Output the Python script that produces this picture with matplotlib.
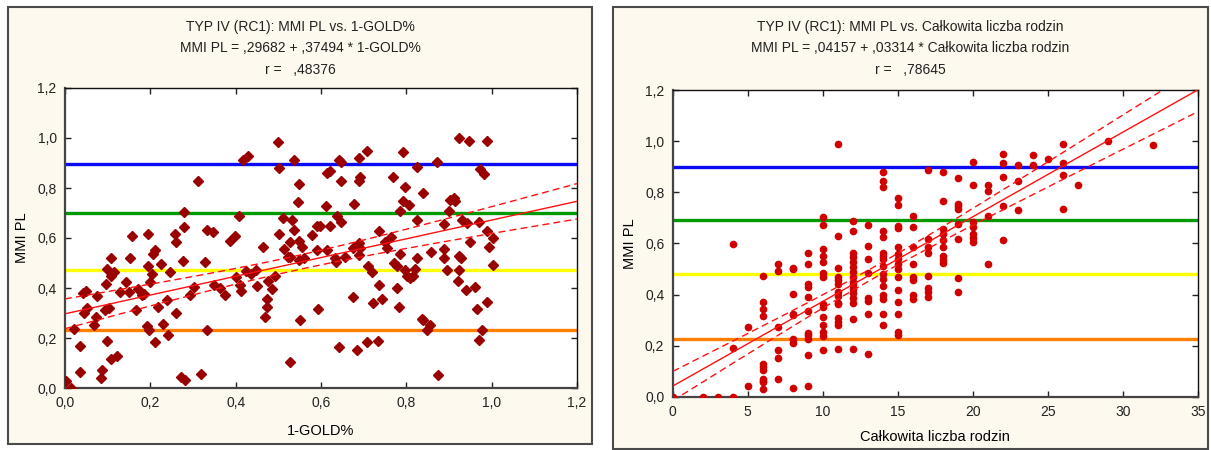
import numpy as np
import matplotlib
matplotlib.use("Agg")
import matplotlib.pyplot as plt
from matplotlib.patches import Rectangle
from matplotlib.ticker import FuncFormatter, MultipleLocator

plt.rcParams['font.family'] = ['Liberation Sans', 'DejaVu Sans']

# ---------------- data: left panel (1-GOLD% vs MMI PL) ----------------
gold_x = [0.002, 0.013, 0.02, 0.035, 0.035, 0.043, 0.049, 0.045, 0.051, 0.067,
          0.073, 0.076, 0.086, 0.084, 0.096, 0.099, 0.094, 0.104, 0.099, 0.107,
          0.108, 0.115, 0.108, 0.123, 0.129, 0.143, 0.15, 0.153, 0.158, 0.167,
          0.17, 0.181, 0.184, 0.192, 0.198, 0.194, 0.194, 0.2, 0.204, 0.206,
          0.21, 0.212, 0.217, 0.225, 0.23, 0.238, 0.241, 0.247, 0.257, 0.259,
          0.261, 0.277, 0.272, 0.282, 0.28, 0.28, 0.294, 0.302, 0.311, 0.318,
          0.329, 0.332, 0.333, 0.347, 0.349, 0.363, 0.374, 0.386, 0.398, 0.4,
          0.408, 0.41, 0.413, 0.418, 0.43, 0.424, 0.435, 0.447, 0.451, 0.465,
          0.468, 0.474, 0.473, 0.476, 0.486, 0.493, 0.502, 0.5, 0.502,
          0.51, 0.531, 0.536, 0.549, 0.546, 0.536, 0.527, 0.513, 0.523, 0.528,
          0.549, 0.555, 0.549, 0.559, 0.551, 0.527, 0.578, 0.59, 0.598, 0.59,
          0.594, 0.613, 0.62, 0.611, 0.613, 0.62, 0.633, 0.635, 0.638, 0.648,
          0.643, 0.648, 0.646, 0.643, 0.656, 0.675, 0.678, 0.675, 0.688, 0.692,
          0.688, 0.684, 0.688, 0.692, 0.69, 0.707, 0.707, 0.711, 0.719, 0.723,
          0.735, 0.733, 0.737, 0.743, 0.751, 0.755, 0.764, 0.769, 0.77, 0.778,
          0.784, 0.784, 0.778, 0.782, 0.792, 0.792, 0.797, 0.796, 0.802, 0.806,
          0.809, 0.815, 0.82, 0.825, 0.825, 0.825, 0.839, 0.837, 0.839, 0.855,
          0.849, 0.858, 0.872, 0.874, 0.888, 0.888, 0.888, 0.896, 0.9, 0.902,
          0.911, 0.914, 0.923, 0.923, 0.929, 0.923, 0.92, 0.931, 0.943, 0.941,
          0.947, 0.949, 0.962, 0.966, 0.97, 0.97, 0.978, 0.988, 0.973, 0.982,
          0.99, 0.99, 1.002, 0.994, 1.002]
gold_y = [0.03, 0.0, 0.236, 0.167, 0.063, 0.38, 0.387, 0.30, 0.32, 0.253,
          0.283, 0.367, 0.071, 0.04, 0.417, 0.19, 0.313, 0.32, 0.476, 0.447,
          0.519, 0.463, 0.117, 0.127, 0.383, 0.423, 0.383, 0.519, 0.609, 0.313,
          0.397, 0.371, 0.376, 0.247, 0.233, 0.617, 0.487, 0.423, 0.457, 0.537,
          0.553, 0.184, 0.324, 0.497, 0.256, 0.353, 0.213, 0.463, 0.617, 0.583,
          0.30, 0.509, 0.044, 0.033, 0.643, 0.703, 0.373, 0.404, 0.829, 0.057,
          0.504, 0.631, 0.233, 0.623, 0.411, 0.40, 0.371, 0.589, 0.609, 0.444,
          0.689, 0.413, 0.387, 0.911, 0.929, 0.467, 0.457, 0.473, 0.409, 0.564,
          0.284, 0.356, 0.324, 0.429, 0.397, 0.447, 0.617, 0.984, 0.88,
          0.68, 0.673, 0.913, 0.817, 0.744, 0.631, 0.583, 0.557, 0.524, 0.524,
          0.587, 0.564, 0.511, 0.52, 0.273, 0.103, 0.613, 0.647, 0.647, 0.551,
          0.317, 0.551, 0.647, 0.727, 0.86, 0.869, 0.52, 0.503, 0.689, 0.663,
          0.913, 0.904, 0.829, 0.163, 0.524, 0.364, 0.736, 0.56, 0.58, 0.56,
          0.533, 0.153, 0.829, 0.844, 0.92, 0.949, 0.184, 0.489, 0.463, 0.34,
          0.411, 0.189, 0.627, 0.357, 0.584, 0.56, 0.604, 0.843, 0.50, 0.487,
          0.537, 0.707, 0.399, 0.324, 0.943, 0.747, 0.804, 0.471, 0.447, 0.733,
          0.44, 0.447, 0.476, 0.52, 0.673, 0.884, 0.781, 0.276, 0.273, 0.253,
          0.231, 0.543, 0.904, 0.053, 0.657, 0.556, 0.52, 0.471, 0.707, 0.753,
          0.76, 0.747, 1.0, 0.529, 0.52, 0.471, 0.427, 0.671, 0.66, 0.393,
          0.989, 0.583, 0.404, 0.317, 0.664, 0.193, 0.233, 0.344, 0.877, 0.856,
          0.989, 0.627, 0.6, 0.564, 0.493]

# ---------------- data: right panel (Całkowita liczba rodzin vs MMI PL) ----------------
rodz_x = ([0, 2, 3, 4, 4, 4, 5, 5]
          + [6] * 11 + [7] * 6 + [8] * 8 + [9] * 11 + [10] * 14 + [11] * 14
          + [12] * 16 + [13] * 8 + [14] * 16 + [15] * 15 + [16] * 8 + [17] * 8
          + [18] * 9 + [19] * 8 + [20] * 7 + [21] * 4 + [22] * 5 + [23] * 3
          + [24] * 2 + [25] + [26] * 4 + [27] + [29] + [32])
rodz_y = ([0.0, 0.0, 0.0, 0.0, 0.192, 0.598, 0.042, 0.272]
          + [0.029, 0.056, 0.063, 0.069, 0.104, 0.115, 0.127, 0.317, 0.342, 0.372, 0.473]
          + [0.068, 0.151, 0.183, 0.272, 0.493, 0.518]
          + [0.033, 0.209, 0.225, 0.32, 0.324, 0.402, 0.50, 0.505]
          + [0.042, 0.163, 0.225, 0.242, 0.251, 0.337, 0.392, 0.431, 0.441, 0.518, 0.561]
          + [0.183, 0.239, 0.252, 0.281, 0.313, 0.35, 0.362, 0.47, 0.483, 0.529, 0.552,
             0.578, 0.672, 0.702]
          + [0.187, 0.281, 0.294, 0.309, 0.362, 0.368, 0.396, 0.411, 0.441, 0.457, 0.47,
             0.503, 0.629, 0.99]
          + [0.187, 0.303, 0.368, 0.385, 0.405, 0.42, 0.437, 0.45, 0.47, 0.49, 0.509,
             0.529, 0.548, 0.564, 0.649, 0.689]
          + [0.167, 0.324, 0.376, 0.388, 0.486, 0.539, 0.589, 0.672]
          + [0.88, 0.846, 0.82, 0.65, 0.625, 0.564, 0.552, 0.539, 0.512, 0.481, 0.46,
             0.434, 0.40, 0.383, 0.323, 0.279]
          + [0.78, 0.749, 0.669, 0.66, 0.585, 0.558, 0.539, 0.521, 0.501, 0.468, 0.419,
             0.369, 0.323, 0.255, 0.242]
          + [0.706, 0.664, 0.585, 0.52, 0.468, 0.458, 0.40, 0.383]
          + [0.886, 0.619, 0.585, 0.563, 0.473, 0.427, 0.409, 0.392]
          + [0.88, 0.765, 0.655, 0.636, 0.613, 0.585, 0.55, 0.537, 0.524]
          + [0.855, 0.756, 0.746, 0.735, 0.676, 0.619, 0.465, 0.409]
          + [0.92, 0.83, 0.686, 0.664, 0.636, 0.622, 0.605]
          + [0.83, 0.804, 0.706, 0.52]
          + [0.95, 0.915, 0.86, 0.746, 0.612]
          + [0.906, 0.846, 0.73]
          + [0.946, 0.906]
          + [0.93]
          + [0.991, 0.915, 0.869, 0.735]
          + [0.83]
          + [1.0]
          + [0.987])

# regression coefficients (from titles)
gold_a, gold_b = 0.29682, 0.37494
rodz_a, rodz_b = 0.04157, 0.03314

# reference lines
gold_hlines = [0.897, 0.699, 0.471, 0.232]
rodz_hlines = [0.90, 0.692, 0.479, 0.226]
hline_colors = ['#0A0AF5', '#009A00', '#FFFF00', '#FF8000']

left_titles = ["TYP IV (RC1): MMI PL vs. 1-GOLD%",
               "MMI PL = ,29682 + ,37494 * 1-GOLD%",
               "r =   ,48376"]
right_titles = ["TYP IV (RC1): MMI PL vs. Całkowita liczba rodzin",
                "MMI PL = ,04157 + ,03314 * Całkowita liczba rodzin",
                "r =   ,78645"]

W, H = 1211, 450
fig = plt.figure(figsize=(W / 100, H / 100), dpi=100)
fig.patch.set_facecolor('white')
panel_bg = '#FDF9EE'


def px_rect(x0, y0, x1, y1):
    return (x0 / W, 1 - y1 / H, (x1 - x0) / W, (y1 - y0) / H)


# background axes holding the two cream panels
bg = fig.add_axes([0, 0, 1, 1], zorder=-10)
bg.set_xlim(0, W)
bg.set_ylim(H, 0)
bg.axis('off')
for (x0, y0, x1, y1) in [(8, 7, 592, 444), (613, 7, 1208, 449)]:
    bg.add_patch(Rectangle((x0, y0), x1 - x0, y1 - y0, facecolor=panel_bg,
                           edgecolor='#4a4a4a', linewidth=1.5))

ax1 = fig.add_axes(px_rect(65, 88, 577, 388))
ax2 = fig.add_axes(px_rect(672.7, 90.3, 1197.7, 396.7))

comma = FuncFormatter(lambda v, p: f"{v:.1f}".replace('.', ','))
intfmt = FuncFormatter(lambda v, p: f"{v:.0f}")


def conf_band(x, y, a, b, xs):
    x = np.asarray(x, float)
    y = np.asarray(y, float)
    n = len(x)
    res = y - (a + b * x)
    s = np.sqrt(np.sum(res ** 2) / (n - 2))
    xbar = x.mean()
    sxx = np.sum((x - xbar) ** 2)
    se = s * np.sqrt(1.0 / n + (xs - xbar) ** 2 / sxx)
    t = 1.97
    yhat = a + b * xs
    return yhat, yhat - t * se, yhat + t * se


def style_axes(ax, xmax, xstep, xfmt):
    ax.set_facecolor('white')
    ax.set_xlim(0, xmax)
    ax.set_ylim(0, 1.2)
    ax.xaxis.set_major_locator(MultipleLocator(xstep))
    ax.yaxis.set_major_locator(MultipleLocator(0.2))
    ax.xaxis.set_major_formatter(xfmt)
    ax.yaxis.set_major_formatter(comma)
    ax.tick_params(direction='in', length=4, width=1, top=True, right=True,
                   labelsize=10, colors='#222222', pad=6)
    for side in ['left', 'bottom']:
        ax.spines[side].set_color('#444444')
        ax.spines[side].set_linewidth(1.6)
    for side in ['top', 'right']:
        ax.spines[side].set_color('#111111')
        ax.spines[side].set_linewidth(1.0)
    ax.set_ylabel('MMI PL', fontsize=10.5, labelpad=6)


# left panel
style_axes(ax1, 1.2, 0.2, comma)
for yv, c in zip(gold_hlines, hline_colors):
    ax1.axhline(yv, color=c, lw=2.4, zorder=2)
ax1.plot(gold_x, gold_y, linestyle='none', marker='D', markersize=5.3,
         color='#990000', markeredgecolor='#990000', zorder=3)
xs1 = np.linspace(0, 1.2, 200)
yh, lo, hi = conf_band(gold_x, gold_y, gold_a, gold_b, xs1)
ax1.plot(xs1, yh, color='#FF1010', lw=1.0, zorder=4)
ax1.plot(xs1, lo, color='#FF1010', lw=1.0, dashes=(5, 3), zorder=4)
ax1.plot(xs1, hi, color='#FF1010', lw=1.0, dashes=(5, 3), zorder=4)
ax1.set_xlabel('1-GOLD%', fontsize=10.5, labelpad=10)

# right panel
style_axes(ax2, 35, 5, intfmt)
for yv, c in zip(rodz_hlines, hline_colors):
    ax2.axhline(yv, color=c, lw=2.4, zorder=2)
ax2.plot(rodz_x, rodz_y, linestyle='none', marker='o', markersize=4.5,
         color='#D00000', markeredgecolor='#D00000', zorder=3)
xs2 = np.linspace(0, 35, 200)
yh, lo, hi = conf_band(rodz_x, rodz_y, rodz_a, rodz_b, xs2)
ax2.plot(xs2, yh, color='#FF1010', lw=1.0, zorder=4)
ax2.plot(xs2, lo, color='#FF1010', lw=1.0, dashes=(5, 3), zorder=4)
ax2.plot(xs2, hi, color='#FF1010', lw=1.0, dashes=(5, 3), zorder=4)
ax2.set_xlabel('Całkowita liczba rodzin', fontsize=10.5, labelpad=8)

# titles
for cx, lines in [(300, left_titles), (910, right_titles)]:
    for yy, t in zip([27, 48, 70], lines):
        fig.text(cx / W, 1 - yy / H, t, ha='center', va='center',
                 fontsize=10, color='#222222')

fig.savefig('out.png', dpi=100, facecolor=fig.get_facecolor())
